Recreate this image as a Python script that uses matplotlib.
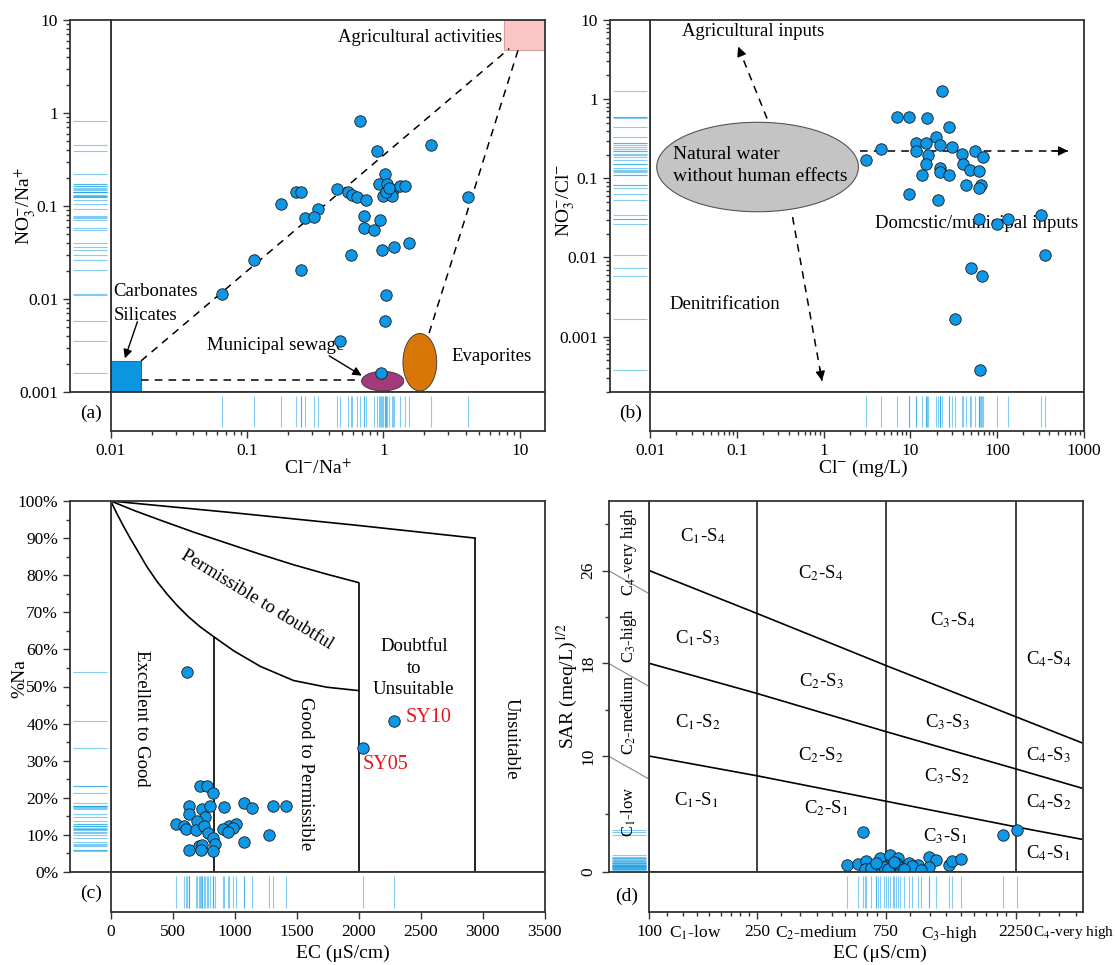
import numpy as np
import matplotlib
matplotlib.use("Agg")
import matplotlib.pyplot as plt
from matplotlib.patches import Rectangle
from matplotlib.ticker import FixedLocator, NullFormatter, LogLocator

plt.rcParams['font.family'] = ['Liberation Serif', 'DejaVu Serif']
plt.rcParams['mathtext.fontset'] = 'stix'
plt.rcParams['axes.unicode_minus'] = False

# ---------------- data ----------------
# (a) Cl-/Na+ vs NO3-/Na+
a_cl_na = [0.676, 2.24, 0.89, 1.02, 0.925, 1.07, 1.18, 1.33, 1.45, 1.00, 1.16, 4.18,
           0.454, 0.547, 0.588, 0.644, 0.74, 0.228, 0.249, 0.177, 0.331, 0.265, 0.31,
           0.718, 0.936, 0.718, 0.85, 0.98, 1.19, 1.55, 0.58, 0.113, 0.249, 0.0654,
           1.04, 1.02, 0.482, 0.964, 1.05, 1.10]
a_no3_na = [0.83, 0.45, 0.39, 0.222, 0.171, 0.174, 0.147, 0.164, 0.166, 0.127, 0.127, 0.125,
            0.151, 0.141, 0.130, 0.125, 0.115, 0.14, 0.141, 0.106, 0.093, 0.074, 0.076,
            0.079, 0.071, 0.058, 0.055, 0.034, 0.036, 0.040, 0.030, 0.0264, 0.0203, 0.0114,
            0.011, 0.00587, 0.00352, 0.0016, 0.14, 0.155]

# (b) Cl- (mg/L) vs NO3-/Cl-
b_cl = [23.3, 7.0, 9.55, 15.4, 27.6, 19.9, 11.5, 15.2, 22.2, 30.3, 4.58, 11.5, 55.8,
        16.0, 39.8, 69.3, 3.09, 15.0, 40.3, 21.8, 21.8, 48.1, 62.0, 13.5, 28.1, 43.7,
        65.5, 61.4, 9.6, 20.6, 61.4, 100, 132, 324, 356, 49.4, 67.4, 32.7, 63.1]
b_no3_cl = [1.26, 0.60, 0.60, 0.57, 0.44, 0.33, 0.28, 0.28, 0.264, 0.25, 0.235, 0.222, 0.222,
            0.20, 0.205, 0.186, 0.172, 0.153, 0.153, 0.135, 0.12, 0.126, 0.123, 0.111, 0.111,
            0.083, 0.083, 0.076, 0.064, 0.053, 0.031, 0.0267, 0.031, 0.0347, 0.0106, 0.0073,
            0.0059, 0.00168, 0.00038]

# (c) Wilcox: EC vs %Na
c_ec = [618, 2284, 2039, 719, 774, 825, 633, 739, 805, 912, 1076, 1142, 1309, 1415, 630,
        762, 696, 529, 595, 610, 690, 753, 955, 1012, 906, 984, 949, 782, 825, 1280, 1079,
        840, 716, 733, 630, 731, 825]
c_na = [53.8, 40.7, 33.5, 23.3, 23.2, 21.4, 17.9, 17.0, 17.9, 17.5, 18.6, 17.2, 17.7, 17.9,
        15.6, 14.7, 13.8, 13.0, 12.3, 11.7, 11.4, 12.5, 12.3, 13.0, 11.7, 11.8, 10.9, 10.5,
        9.1, 9.9, 8.1, 7.5, 6.9, 7.4, 6.0, 6.0, 5.6]
c_labels = {"SY10": (2378, 41.6), "SY05": (2033, 28.9)}

# Wilcox boundaries
w_curve1_ec = [0, 50, 100, 160, 215, 290, 376, 455, 537, 630, 725, 832, 993, 1208, 1476,
               1745, 2000]
w_curve1_na = [100, 96.6, 93.4, 89.8, 86.7, 82.4, 78.2, 74.9, 71.8, 68.7, 66.0, 63.4, 59.6,
               55.4, 51.6, 49.8, 48.9]
w_curve2_ec = [0, 200, 403, 670, 940, 1210, 1476, 1740, 2000]
w_curve2_na = [100, 97.3, 94.8, 91.6, 88.6, 85.6, 82.8, 80.3, 78.0]
w_curve3_ec = [0, 500, 1000, 1500, 2000, 2470, 2940]
w_curve3_na = [100, 98.4, 96.8, 95.1, 93.4, 91.7, 90.0]
w_vert_ec = [830, 2000, 2940]
w_vert_top = [63.6, 78.0, 90.0]

# (d) Richards (USSL): EC vs SAR
d_ec = [617, 2031, 2284, 536, 592, 632, 624, 687, 713, 773, 828, 750, 907, 986, 1076, 1143,
        1079, 1282, 1313, 1420, 700, 735, 792, 841, 935, 661, 817, 760, 800, 690, 870, 1010]
d_sar = [3.44, 3.15, 3.64, 0.57, 0.69, 0.97, 0.29, 0.49, 1.2, 1.43, 1.2, 0.54, 0.77, 0.63,
         1.26, 1.0, 0.43, 0.57, 0.97, 1.15, 0.34, 0.43, 0.49, 0.4, 0.49, 0.34, 0.77, 0.3,
         0.9, 0.8, 0.3, 0.2]
r_ec_nodes = [100, 250, 750, 2250, 4000]
r_s34 = [26, 22.3, 17.8, 13.4, 11.1]
r_s23 = [18, 15.4, 12.1, 8.9, 7.2]
r_s12 = [10, 8.3, 6.1, 3.9, 2.8]
r_classes = {
    "C$_1$-S$_4$": (158, 29.0), "C$_2$-S$_4$": (431, 25.8), "C$_1$-S$_3$": (151, 20.2),
    "C$_3$-S$_4$": (1321, 21.7), "C$_4$-S$_4$": (2994, 18.4), "C$_2$-S$_3$": (434, 16.5),
    "C$_1$-S$_2$": (151, 12.95), "C$_3$-S$_3$": (1262, 12.9), "C$_2$-S$_2$": (431, 10.1),
    "C$_4$-S$_3$": (2980, 10.1), "C$_3$-S$_2$": (1254, 8.3), "C$_1$-S$_1$": (149, 6.2),
    "C$_2$-S$_1$": (450, 5.5), "C$_4$-S$_2$": (2980, 6.0), "C$_3$-S$_1$": (1234, 3.1),
    "C$_4$-S$_1$": (2980, 1.6),
}
r_side = {"C$_4$-very high": 27.6, "C$_3$-high": 20.4, "C$_2$-medium": 13.5, "C$_1$-low": 5.2}
r_bottom = {"C$_1$-low": 147.6, "C$_2$-medium": 415, "C$_3$-high": 1288}

# ---------------- style ----------------
W, H = 1115, 965
fig = plt.figure(figsize=(W / 100, H / 100), dpi=100)
SPINE = '#333333'
DOT = '#0d97e7'
RUG = '#1fa3e8'
TICK_FS = 12.5
TXT_FS = 13.5
LAB_FS = 14


def panel(L0, L1, R, T, B1, B2):
    main = fig.add_axes([L1 / W, 1 - B1 / H, (R - L1) / W, (B1 - T) / H])
    left = fig.add_axes([L0 / W, 1 - B1 / H, (L1 - L0) / W, (B1 - T) / H], sharey=main)
    bot = fig.add_axes([L1 / W, 1 - B2 / H, (R - L1) / W, (B2 - B1) / H], sharex=main)
    for ax in (main, left, bot):
        for s in ax.spines.values():
            s.set_color(SPINE)
            s.set_linewidth(1.3)
        ax.tick_params(which='both', direction='out', color=SPINE, width=1.0,
                       labelsize=TICK_FS)
        ax.tick_params(which='major', length=5)
        ax.tick_params(which='minor', length=3)
    main.tick_params(which='both', left=False, bottom=False,
                     labelleft=False, labelbottom=False)
    left.set_xlim(0, 1)
    left.tick_params(axis='x', which='both', bottom=False, labelbottom=False)
    bot.set_ylim(0, 1)
    bot.tick_params(axis='y', which='both', left=False, labelleft=False)
    return main, left, bot


def rugs(left, bot, xs, ys):
    left.hlines(ys, 0.08, 0.92, colors=RUG, alpha=0.55, lw=0.8)
    bot.vlines(xs, 0.1, 0.9, colors=RUG, alpha=0.55, lw=0.8)


def dots(ax, xs, ys):
    ax.scatter(xs, ys, s=68, c=DOT, edgecolors='#1a1a1a', linewidths=0.6, zorder=5)


def log_ellipse(ax, cx, cy, a, b, **kw):
    t = np.linspace(0, 2 * np.pi, 200)
    ax.fill(10 ** (cx + a * np.cos(t)), 10 ** (cy + b * np.sin(t)), **kw)


def log_arrow(ax, p0, p1):
    ax.plot([p0[0], p1[0]], [p0[1], p1[1]], ls=(0, (5, 4)), color='k', lw=1.1)
    lx0, ly0 = np.log10(p0)
    lx1, ly1 = np.log10(p1)
    pre = (10 ** (lx1 - 0.08 * (lx1 - lx0)), 10 ** (ly1 - 0.08 * (ly1 - ly0)))
    ax.annotate('', xy=p1, xytext=pre,
                arrowprops=dict(arrowstyle='-|>', color='k', lw=1.0,
                                mutation_scale=14, shrinkA=0, shrinkB=0))


def log_decades(ax, axis, ticks, labels):
    a = ax.yaxis if axis == 'y' else ax.xaxis
    a.set_major_locator(FixedLocator(ticks))
    a.set_ticklabels(labels)
    a.set_minor_locator(LogLocator(base=10, subs=np.arange(2, 10), numticks=30))
    a.set_minor_formatter(NullFormatter())


# ---------------- (a) ----------------
ma, la, ba = panel(70, 110.7, 544.6, 20, 392, 431)
ma.set_xscale('log'); ma.set_yscale('log')
ma.set_xlim(0.01, 15.2); ma.set_ylim(0.001, 10)
log_decades(la, 'y', [0.001, 0.01, 0.1, 1, 10], ['0.001', '0.01', '0.1', '1', '10'])
log_decades(ba, 'x', [0.01, 0.1, 1, 10], ['0.01', '0.1', '1', '10'])

ma.add_patch(Rectangle((7.64, 4.72), 15.2 - 7.64, 10 - 4.72, facecolor='#fbc6c3',
                       edgecolor='#d9a0a0', lw=0.8, zorder=2))
ma.add_patch(Rectangle((0.01, 0.001), 0.0167 - 0.01, 0.00216 - 0.001, facecolor='#0a96e0',
                       edgecolor='#2a6fa0', lw=0.8, zorder=2))
log_ellipse(ma, -0.0055, -2.883, 0.155, 0.105, facecolor='#a33a7c', edgecolor='#333333',
            lw=0.6, zorder=2)
log_ellipse(ma, 0.267, -2.68, 0.124, 0.309, facecolor='#d97706', edgecolor='#333333',
            lw=0.6, zorder=2)
dash = (0, (5, 4))
ma.plot([0.0167, 8.36], [0.00216, 4.92], ls=dash, color='k', lw=1.1, zorder=3)
ma.plot([9.7, 2.14], [4.72, 0.0041], ls=dash, color='k', lw=1.1, zorder=3)
ma.plot([0.0167, 0.68], [0.00134, 0.00134], ls=dash, color='k', lw=1.1, zorder=3)
dots(ma, a_cl_na, a_no3_na)
rugs(la, ba, a_cl_na, a_no3_na)

ma.text(7.41, 6.47, 'Agricultural activities', ha='right', va='center', fontsize=TXT_FS)
ma.text(0.0105, 0.0119, 'Carbonates', ha='left', va='center', fontsize=TXT_FS)
ma.text(0.0105, 0.00668, 'Silicates', ha='left', va='center', fontsize=TXT_FS)
ma.text(0.0505, 0.00318, 'Municipal sewage', ha='left', va='center', fontsize=TXT_FS, zorder=4)
ma.text(3.18, 0.00242, 'Evaporites', ha='left', va='center', fontsize=TXT_FS)
ma.annotate('', xy=(0.0127, 0.0023), xytext=(0.0157, 0.0057),
            arrowprops=dict(arrowstyle='-|>', color='k', lw=1.0, mutation_scale=13,
                            shrinkA=0, shrinkB=0))
ma.annotate('', xy=(0.693, 0.0015), xytext=(0.40, 0.00245),
            arrowprops=dict(arrowstyle='-|>', color='k', lw=1.0, mutation_scale=13,
                            shrinkA=0, shrinkB=0))

# ---------------- (b) ----------------
mb, lb, bb = panel(609.6, 650.3, 1083.9, 20, 392, 431)
mb.set_xscale('log'); mb.set_yscale('log')
mb.set_xlim(0.01, 1000); mb.set_ylim(2e-4, 10)
log_decades(lb, 'y', [0.001, 0.01, 0.1, 1, 10], ['0.001', '0.01', '0.1', '1', '10'])
log_decades(bb, 'x', [0.01, 0.1, 1, 10, 100, 1000],
            ['0.01', '0.1', '1', '10', '100', '1000'])

log_ellipse(mb, -0.763, -0.857, 1.163, 0.565, facecolor='#c4c4c4', edgecolor='#555555',
            lw=0.8, zorder=2)
mb.text(0.0184, 0.201, 'Natural water', ha='left', va='center', fontsize=TXT_FS + 0.5, zorder=3)
mb.text(0.0184, 0.104, 'without human effects', ha='left', va='center',
        fontsize=TXT_FS + 0.5, zorder=3)
log_arrow(mb, (0.222, 0.569), (0.103, 4.6))
log_arrow(mb, (0.437, 0.0324), (0.955, 0.000277))
log_arrow(mb, (2.63, 0.222), (655, 0.222))
mb.text(0.0233, 7.1, 'Agricultural inputs', ha='left', va='center', fontsize=TXT_FS)
mb.text(0.0168, 0.00254, 'Denitrification', ha='left', va='center', fontsize=TXT_FS)
mb.text(3.9, 0.0267, 'Domcstic/municipal inputs', ha='left', va='center', fontsize=TXT_FS,
        zorder=3)
dots(mb, b_cl, b_no3_cl)
rugs(lb, bb, b_cl, b_no3_cl)

# ---------------- (c) ----------------
mc_, lc, bc = panel(70, 110.7, 544.6, 501, 872, 912)
mc_.set_xlim(0, 3500); mc_.set_ylim(0, 100)
lc.set_yticks(np.arange(0, 101, 10))
lc.set_yticklabels(['%d%%' % v for v in range(0, 101, 10)])
lc.set_yticks(np.arange(5, 100, 10), minor=True)
bc.set_xticks(np.arange(0, 3501, 500))

for ex, ny in [(w_curve1_ec, w_curve1_na), (w_curve2_ec, w_curve2_na),
               (w_curve3_ec, w_curve3_na)]:
    mc_.plot(ex, ny, color='k', lw=1.2, zorder=2)
mc_.vlines(w_vert_ec, 0, w_vert_top, colors='k', lw=1.2, zorder=2)
dots(mc_, c_ec, c_na)
rugs(lc, bc, c_ec, c_na)
mc_.text(250, 41.4, 'Excellent to Good', rotation=-90, ha='center', va='center', fontsize=TXT_FS)
mc_.text(1573, 26.6, 'Good to Permissible', rotation=-90, ha='center', va='center',
         fontsize=TXT_FS)
mc_.text(1181, 73.3, 'Permissible to doubtful', rotation=-31.5, rotation_mode='anchor',
         ha='center', va='center', fontsize=TXT_FS)
mc_.text(2445, 54.9, 'Doubtful\nto\nUnsuitable', ha='center', va='center', fontsize=TXT_FS,
         linespacing=1.35)
mc_.text(3233, 35.8, 'Unsuitable', rotation=-90, ha='center', va='center', fontsize=TXT_FS)
for lab, (ex, ny) in c_labels.items():
    mc_.text(ex, ny, lab, color='#e8141c', ha='left', va='center', fontsize=TXT_FS + 1)

# ---------------- (d) ----------------
md, ld, bd = panel(608.5, 649.2, 1083.2, 501, 872, 912)
md.set_xscale('log')
md.set_xlim(100, 4000); md.set_ylim(0, 32)
ld.set_yticks([0, 10, 18, 26])
ld.set_yticks([5, 14, 22, 30], minor=True)
for t in ld.get_yticklabels():
    t.set_rotation(90)
    t.set_va('center')
bd.xaxis.set_major_locator(FixedLocator([100, 250, 750, 2250]))
bd.xaxis.set_ticklabels(['100', '250', '750', '2250'])
minor = np.concatenate([np.linspace(100, 250, 10)[1:-1], np.linspace(250, 750, 10)[1:-1],
                        np.linspace(750, 2250, 10)[1:-1], [2750, 3250, 3750]])
bd.xaxis.set_minor_locator(FixedLocator(minor))
bd.xaxis.set_minor_formatter(NullFormatter())
for lab, ex in r_bottom.items():
    bd.annotate(lab, xy=(ex, 0), xycoords=bd.get_xaxis_transform(), xytext=(0, -8.5),
                textcoords='offset points', ha='center', va='top', fontsize=TICK_FS)
bd.annotate('C$_4$-very high', xy=(2620, 0), xycoords=bd.get_xaxis_transform(),
            xytext=(0, -8.5), textcoords='offset points', ha='left', va='top',
            fontsize=11, annotation_clip=False)

md.vlines(r_ec_nodes[1:4], 0, 32, colors='#333333', lw=1.3, zorder=2)
for s in (r_s34, r_s23, r_s12):
    md.plot(r_ec_nodes, s, color='k', lw=1.2, zorder=2)
for lab, (ex, sy) in r_classes.items():
    md.text(ex, sy, lab, ha='center', va='center', fontsize=TXT_FS)
for y0 in (26, 18, 10):
    ld.plot([0, 1], [y0, y0 - 2], color='#888888', lw=0.8)
for lab, sy in r_side.items():
    ld.text(0.5, sy, lab, rotation=90, ha='center', va='center', fontsize=12)
dots(md, d_ec, d_sar)
rugs(ld, bd, d_ec, d_sar)

# ---------------- labels ----------------
fig.text(25 / W, 1 - 206 / H, 'NO$_3^{-}$/Na$^{+}$', rotation=90, ha='center', va='center',
         fontsize=LAB_FS)
fig.text(318 / W, 1 - 468 / H, 'Cl$^{-}$/Na$^{+}$', ha='center', va='center', fontsize=LAB_FS)
fig.text(566 / W, 1 - 200 / H, 'NO$_3^{-}$/Cl$^{-}$', rotation=90, ha='center', va='center',
         fontsize=LAB_FS)
fig.text(863 / W, 1 - 468 / H, 'Cl$^{-}$ (mg/L)', ha='center', va='center', fontsize=LAB_FS)
fig.text(20 / W, 1 - 679 / H, '%Na', rotation=90, ha='center', va='center', fontsize=LAB_FS)
fig.text(343 / W, 1 - 953 / H, 'EC (\u03bcS/cm)', ha='center', va='center', fontsize=LAB_FS)
fig.text(567 / W, 1 - 686 / H, 'SAR (meq/L)$^{1/2}$', rotation=90, ha='center', va='center',
         fontsize=LAB_FS)
fig.text(880 / W, 1 - 953 / H, 'EC (\u03bcS/cm)', ha='center', va='center', fontsize=LAB_FS)
for lab, (px, py) in {'(a)': (91, 413), '(b)': (631, 413), '(c)': (91, 893),
                      '(d)': (627, 896)}.items():
    fig.text(px / W, 1 - py / H, lab, ha='center', va='center', fontsize=LAB_FS)

fig.savefig('out.png', dpi=100)
